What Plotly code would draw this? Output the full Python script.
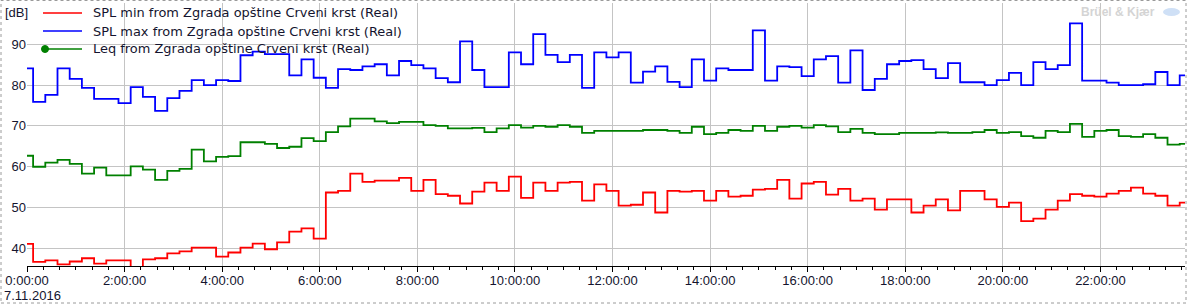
import pandas as pd
import plotly.graph_objects as go

# 15-minute samples, 7.11.2016
times = pd.date_range("2016-11-07 00:00", periods=96, freq="15min")

spl_max = [84.1, 75.9, 77.6, 84.1, 81.5, 79.3, 76.6, 76.6, 75.6, 79.5, 77.1, 73.7, 76.8, 78.6, 81.2, 80.0,
           81.2, 81.0, 87.3, 88.2, 87.6, 87.6, 82.4, 86.3, 81.8, 79.3, 83.9, 83.7, 84.6, 85.1, 82.4, 85.9,
           84.9, 84.1, 81.7, 80.7, 90.7, 83.7, 79.5, 79.5, 88.0, 85.1, 92.5, 87.4, 85.6, 87.4, 79.3, 88.0,
           86.8, 88.0, 80.6, 83.3, 84.6, 80.8, 79.5, 86.3, 81.1, 84.1, 83.7, 83.7, 93.4, 81.1, 84.6, 84.4,
           82.2, 86.3, 87.1, 80.6, 88.5, 78.8, 81.5, 85.1, 85.9, 86.1, 83.9, 81.7, 85.4, 80.7, 80.7, 80.0,
           81.2, 83.0, 80.0, 85.6, 83.9, 84.9, 95.1, 81.1, 81.1, 80.6, 80.0, 80.0, 80.2, 83.2, 80.0, 82.4]

leq = [62.7, 60.0, 61.0, 61.7, 60.7, 58.3, 59.8, 57.9, 57.9, 60.1, 59.3, 56.8, 59.0, 59.5, 64.2, 61.3,
       62.4, 62.6, 66.0, 66.0, 65.6, 64.6, 64.9, 67.0, 66.3, 68.5, 69.9, 71.8, 71.8, 71.1, 70.7, 71.0,
       71.0, 70.2, 70.0, 69.4, 69.4, 69.5, 68.5, 69.4, 70.2, 69.6, 70.0, 69.8, 70.2, 69.8, 68.3, 68.8,
       68.8, 68.8, 68.8, 69.0, 69.0, 68.8, 68.3, 69.8, 68.0, 68.3, 69.0, 68.8, 70.0, 68.8, 69.8, 70.0,
       69.6, 70.2, 69.9, 68.5, 69.3, 68.3, 68.0, 68.0, 68.3, 68.3, 68.3, 68.4, 68.3, 68.3, 68.5, 69.0,
       68.3, 68.5, 67.5, 67.1, 68.8, 68.5, 70.5, 67.3, 68.8, 69.0, 67.5, 67.3, 68.0, 67.1, 65.4, 65.6]

spl_min = [41.1, 36.7, 37.1, 36.1, 36.8, 37.6, 36.3, 37.1, 37.1, 35.2, 37.3, 37.6, 38.8, 39.3, 40.2, 40.2,
           38.0, 39.0, 40.2, 41.2, 39.8, 41.5, 44.1, 44.9, 42.4, 53.7, 54.1, 58.3, 56.3, 56.6, 56.6, 57.3,
           54.1, 56.8, 53.3, 52.9, 51.0, 53.9, 56.1, 54.1, 57.6, 52.4, 56.1, 54.1, 56.1, 56.3, 51.7, 55.7,
           54.1, 50.5, 50.7, 53.7, 48.8, 54.1, 53.9, 54.1, 51.7, 54.1, 52.7, 52.9, 54.4, 54.6, 56.8, 52.2,
           55.9, 56.3, 53.2, 54.6, 51.7, 52.2, 49.5, 52.0, 52.0, 48.8, 50.5, 52.0, 49.3, 54.1, 54.1, 52.0,
           50.2, 51.2, 46.7, 47.3, 49.5, 51.7, 53.3, 52.9, 52.7, 53.4, 54.1, 54.9, 53.4, 52.9, 50.5, 51.2]

names = ["SPL min from Zgrada opštine Crveni krst (Real)",
         "SPL max from Zgrada opštine Crveni krst (Real)",
         "Leq from Zgrada opštine Crveni krst (Real)"]
colors = ["#ff0000", "#0000ff", "#008000"]
series = [spl_min, spl_max, leq]
y_ticks = [40, 50, 60, 70, 80, 90]

W, H = 1187, 306
ML, MR, MT, MB = 27, 2, 3, 40
PW, PH = W - ML - MR, H - MT - MB
FONT = "Liberation Sans, Arial, sans-serif"
LFONT = "DejaVu Sans, Verdana, sans-serif"
TXT = "#14142e"


def px(xp):
    return (xp - ML) / PW


def py(yp):
    return 1 - (yp - MT) / PH


fig = go.Figure()
for name, color, vals in zip(names, colors, series):
    fig.add_trace(go.Scatter(x=times, y=vals, mode="lines", name=name, showlegend=False,
                             line=dict(color=color, width=1.8, shape="hvh")))

fig.update_layout(
    width=W, height=H,
    margin=dict(l=ML, r=MR, t=MT, b=MB),
    paper_bgcolor="white", plot_bgcolor="white",
    font=dict(family=FONT, size=13, color=TXT),
    showlegend=False,
    xaxis=dict(
        range=["2016-11-07 00:00", "2016-11-07 23:44"],
        tickformat="%-H:%M:%S", dtick=2 * 3600 * 1000, tick0="2016-11-07 00:00",
        showgrid=True, gridcolor="#c4c4c4", gridwidth=1,
        showline=True, linecolor="black", linewidth=1,
        ticks="outside", ticklen=5, tickcolor="black", ticklabelstandoff=-3,
        minor=dict(dtick=20 * 60 * 1000, ticks="outside", ticklen=3, tickcolor="black", showgrid=False),
        zeroline=False, tickfont=dict(size=13, color=TXT), fixedrange=True,
    ),
    yaxis=dict(
        range=[35.7, 100.1], tickvals=y_ticks,
        showgrid=True, gridcolor="#c4c4c4", gridwidth=1,
        showline=False, zeroline=False, ticks="",
        tickfont=dict(size=13, color=TXT), fixedrange=True,
    ),
)

# legend drawn in the top-left corner (transparent, like the original)
leg_y = [13, 31, 49]
for name, color, yy in zip(names, colors, leg_y):
    fig.add_shape(type="line", xref="paper", yref="paper", x0=px(43), x1=px(82), y0=py(yy), y1=py(yy),
                  line=dict(color=color, width=1.6))
    fig.add_annotation(text=name, xref="paper", yref="paper", x=px(91), y=py(yy), xanchor="left",
                       yanchor="middle", showarrow=False, font=dict(family=LFONT, size=12.95, color=TXT))
fig.add_shape(type="circle", xref="paper", yref="paper", x0=px(41.5), x1=px(48.5), y0=py(45.5), y1=py(52.5),
              fillcolor=colors[2], line=dict(color=colors[2], width=1))

fig.add_annotation(text="[dB]", xref="paper", yref="paper", x=px(3), y=py(13),
                   xanchor="left", yanchor="middle", showarrow=False, font=dict(size=13, color=TXT))
fig.add_annotation(text="7.11.2016", xref="paper", yref="paper", x=px(2), y=py(295),
                   xanchor="left", yanchor="middle", showarrow=False, font=dict(size=13, color=TXT))
fig.add_annotation(text="<b>Brüel & Kjær</b>", xref="paper", yref="paper", x=px(1118),
                   y=py(12), xanchor="center", yanchor="middle", showarrow=False,
                   font=dict(size=12, color="#d4d4d4"))
fig.add_shape(type="circle", xref="paper", yref="paper", x0=px(1163), x1=px(1180), y0=py(8), y1=py(16),
              fillcolor="#cfe0f6", line=dict(width=0))
# dotted frame around the whole picture
fig.add_shape(type="rect", xref="paper", yref="paper", x0=px(1), x1=px(W - 1),
              y0=py(303), y1=py(0.5),
              line=dict(color="#9a9a9a", width=1, dash="dot"), layer="below")

fig.write_html("out.html")
